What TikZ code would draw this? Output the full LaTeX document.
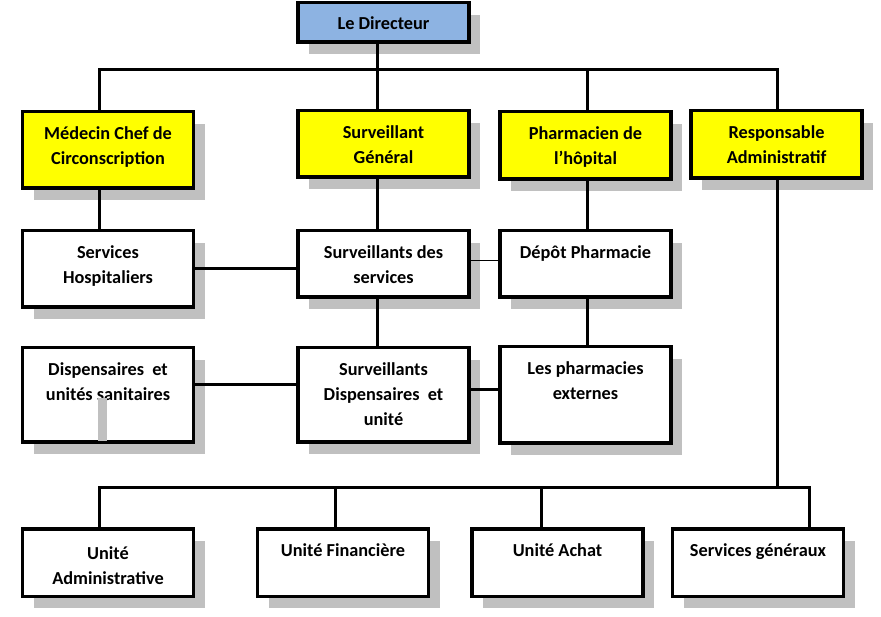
\documentclass[tikz,border=0pt]{standalone}
\usepackage{fontspec}
\setmainfont{Carlito}
\usetikzlibrary{shadows}
\definecolor{bleuDir}{RGB}{141,179,226}
\definecolor{jauneVif}{RGB}{255,255,0}
\definecolor{grisOmbre}{RGB}{192,192,192}

\begin{document}
\begin{tikzpicture}[x=1pt,y=-1pt,
	boite/.style={rectangle,draw,line width=3.5pt,fill=white,inner sep=0pt,minimum width=171pt,
		drop shadow={shadow xshift=11pt,shadow yshift=-12pt,fill=grisOmbre,opacity=1}},
	texte/.style={anchor=north,yshift=-16pt,align=center,inner sep=0pt,font=\bfseries\fontsize{18.3}{25}\selectfont},
	trait/.style={line width=3pt}]

	\useasboundingbox (0,0) rectangle (881,617);

	% direction
	\node[boite,fill=bleuDir,minimum height=39.5pt,label={[texte,yshift=1pt]north:Le Directeur}] (directeur) at (383.5,22.5) {};

	\node[boite,fill=jauneVif,minimum height=76.5pt,label={[texte]north:Médecin Chef de\\Circonscription}] (medecin) at (108,150) {};
	\node[boite,fill=jauneVif,minimum height=66.5pt,label={[texte]north:Surveillant\\Général}] (survgen) at (383.5,144) {};
	\node[boite,fill=jauneVif,minimum height=67.5pt,label={[texte]north:Pharmacien de\\l’hôpital}] (pharma) at (585.5,145.5) {};
	\node[boite,fill=jauneVif,minimum height=67.5pt,label={[texte]north:Responsable\\Administratif}] (resp) at (776.5,144.5) {};

	% services
	\node[boite,minimum height=76.5pt,label={[texte]north:Services\\Hospitaliers}] (hosp) at (108,269) {};
	\node[boite,minimum height=66.5pt,label={[texte]north:Surveillants des\\services}] (survserv) at (383.5,264) {};
	\node[boite,minimum height=66.5pt,label={[texte]north:Dépôt Pharmacie}] (depot) at (585.5,264) {};

	\node[boite,minimum height=94.5pt,label={[texte]north:Dispensaires~ et\\unités sanitaires}] (disp) at (108,395) {};
	\fill[grisOmbre] (98,398) rectangle (107,441);
	\node[boite,minimum height=94.5pt,label={[texte]north:Surveillants\\Dispensaires~ et\\unité}] (survdisp) at (383.5,395) {};
	\node[boite,minimum height=96.5pt,label={[texte]north:Les pharmacies\\externes}] (pharmext) at (585.5,395) {};

	% administration
	\node[boite,minimum height=67.5pt,label={[texte,yshift=-3pt]north:Unité\\Administrative}] (uadmin) at (108,562.5) {};
	\node[boite,minimum height=67.5pt,label={[texte]north:Unité Financière}] (ufin) at (343,562.5) {};
	\node[boite,minimum height=67.5pt,label={[texte]north:Unité Achat}] (uachat) at (557.5,562.5) {};
	\node[boite,minimum height=67.5pt,label={[texte]north:Services généraux}] (servgen) at (758,562.5) {};

	\coordinate (busG) at (99,70);
	\coordinate (busDir) at (377,70);
	\coordinate (busPh) at (587,70);
	\coordinate (busD) at (777,70);
	\coordinate (basG) at (99,487);
	\coordinate (basFin) at (335,487);
	\coordinate (basAchat) at (541,487);
	\coordinate (basResp) at (777,487);
	\coordinate (basD) at (809,487);

	\draw[trait] (busG |- medecin.north) -- (busG) -- (busD) -- (busD |- resp.north);
	\draw[trait] (busDir |- directeur.south) -- (busDir |- survgen.north);
	\draw[trait] (busPh) -- (busPh |- pharma.north);

	\draw[trait] (busG |- medecin.south) -- (busG |- hosp.north);
	\draw[trait] (busDir |- survgen.south) -- (busDir |- survserv.north);
	\draw[trait] (busDir |- survserv.south) -- (busDir |- survdisp.north);
	\draw[trait] (busPh |- pharma.south) -- (busPh |- depot.north);
	\draw[trait] (busPh |- depot.south) -- (busPh |- pharmext.north);

	\draw[trait] (hosp.east) -- (hosp.east -| survserv.west);
	\draw[line width=1pt] ([yshift=3pt]survserv.east) -- ([yshift=3pt]depot.west);
	\draw[trait] ([yshift=10pt]disp.east) -- ([yshift=10pt]survdisp.west);
	\draw[trait] ([yshift=5pt]survdisp.east) -- ([yshift=5pt]pharmext.west);

	\draw[trait] (busD |- resp.south) -- (basResp);
	\draw[trait] (basG |- uadmin.north) -- (basG) -- (basD) -- (basD |- servgen.north);
	\draw[trait] (basFin) -- (basFin |- ufin.north);
	\draw[trait] (basAchat) -- (basAchat |- uachat.north);

\end{tikzpicture}
\end{document}
